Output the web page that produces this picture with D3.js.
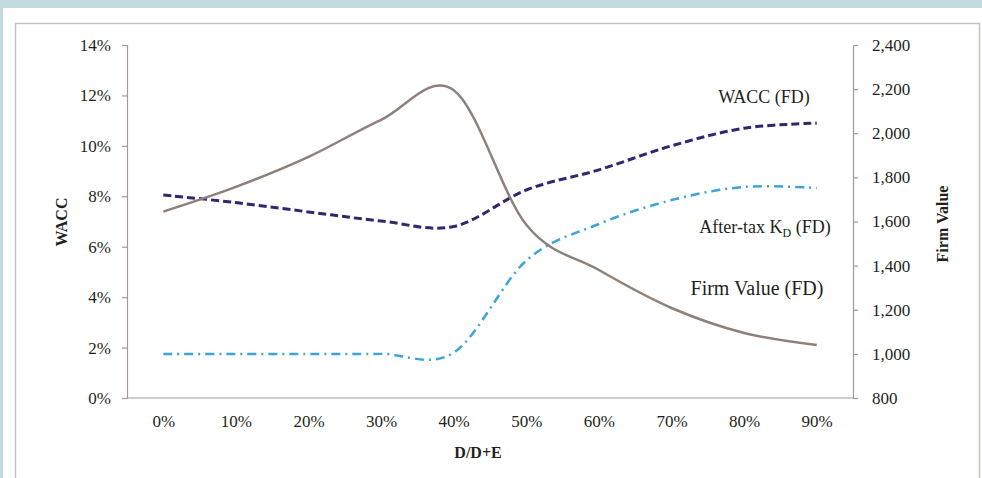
<!DOCTYPE html>
<html><head><meta charset="utf-8">
<script src="https://cdn.jsdelivr.net/npm/d3@7/dist/d3.min.js"></script>
<style>
html,body{margin:0;padding:0;background:#fff;}
svg{display:block;}
text{font-family:"Liberation Serif","Times New Roman",serif;fill:#231f20;}
</style></head>
<body>
<svg id="c" width="982" height="478"></svg>
<script>
const categories = ["0%","10%","20%","30%","40%","50%","60%","70%","80%","90%"];
const waccFD = [8.05, 7.75, 7.38, 7.02, 6.80, 8.25, 9.05, 10.0, 10.7, 10.9];
const kdFD   = [1.75, 1.75, 1.75, 1.75, 1.80, 5.45, 6.90, 7.85, 8.37, 8.33];
const firmValueFD = [1645, 1757, 1893, 2061, 2195, 1585, 1380, 1208, 1095, 1040];
const leftTicks = [0, 2, 4, 6, 8, 10, 12, 14];
const rightTicks = [800, 1000, 1200, 1400, 1600, 1800, 2000, 2200, 2400];

const svg = d3.select("#c");
// page frame
svg.append("rect").attr("x",0).attr("y",0).attr("width",982).attr("height",478).attr("fill","#c3dbe0");
svg.append("rect").attr("x",3).attr("y",8).attr("width",979).attr("height",470).attr("fill","#ffffff");
svg.append("rect").attr("x",15.5).attr("y",23.5).attr("width",964).attr("height",470)
  .attr("fill","none").attr("stroke","#cbc0c0").attr("stroke-width",1.5);

const L=127, R=853, T=45, B=398;
const x = d3.scalePoint().domain(categories).range([L,R]).padding(0.5);
const yL = d3.scaleLinear().domain([0,14]).range([B,T]);
const yR = d3.scaleLinear().domain([800,2400]).range([B,T]);

const axisColor = "#a39a95";
const gL = svg.append("g").attr("transform",`translate(${L},0)`)
  .call(d3.axisLeft(yL).tickValues(leftTicks).tickSize(5).tickPadding(11).tickFormat(d=>d+"%"));
const gR = svg.append("g").attr("transform",`translate(${R},0)`)
  .call(d3.axisRight(yR).tickValues(rightTicks).tickSize(5).tickPadding(14).tickFormat(d3.format(",")));
const gB = svg.append("g").attr("transform",`translate(0,${B})`)
  .call(d3.axisBottom(x).tickSize(0).tickPadding(17));
[gL,gR,gB].forEach(g=>{
  g.select(".domain").attr("stroke",axisColor).attr("stroke-width",1.2);
  g.selectAll(".tick line").attr("stroke",axisColor).attr("stroke-width",1.2);
  g.selectAll("text").attr("font-family","Liberation Serif").attr("font-size",17).attr("fill","#231f20");
});
gB.select(".domain").attr("d",`M${L},0H${R}`);

const curve = d3.curveCardinal.tension(0);
const lineL = d3.line().x((d,i)=>x(categories[i])).y(d=>yL(d)).curve(curve);
const lineR = d3.line().x((d,i)=>x(categories[i])).y(d=>yR(d)).curve(curve);

svg.append("path").attr("d",lineL(kdFD)).attr("fill","none").attr("stroke","#3ea3db")
  .attr("stroke-width",2.5).attr("stroke-dasharray","9,5,2,5");
svg.append("path").attr("d",lineL(waccFD)).attr("fill","none").attr("stroke","#33266f")
  .attr("stroke-width",3).attr("stroke-dasharray","8,4");
svg.append("path").attr("d",lineR(firmValueFD)).attr("fill","none").attr("stroke","#8d817c")
  .attr("stroke-width",2.5);

// series labels
svg.append("text").attr("x",764).attr("y",103).attr("text-anchor","middle").attr("font-size",18).text("WACC (FD)");
const kt = svg.append("text").attr("x",765).attr("y",233).attr("text-anchor","middle").attr("font-size",18);
kt.append("tspan").text("After-tax K");
kt.append("tspan").attr("font-size",12).attr("dy",4).text("D");
kt.append("tspan").attr("dy",-4).text(" (FD)");
svg.append("text").attr("x",757).attr("y",295).attr("text-anchor","middle").attr("font-size",20).text("Firm Value (FD)");

// axis titles
svg.append("text").attr("x",478).attr("y",458).attr("text-anchor","middle").attr("font-weight","bold").attr("font-size",16).text("D/D+E");
svg.append("text").attr("transform","translate(67,222) rotate(-90)").attr("text-anchor","middle").attr("font-weight","bold").attr("font-size",16).text("WACC");
svg.append("text").attr("transform","translate(948,224) rotate(-90)").attr("text-anchor","middle").attr("font-weight","bold").attr("font-size",16).text("Firm Value");
</script>
</body></html>
